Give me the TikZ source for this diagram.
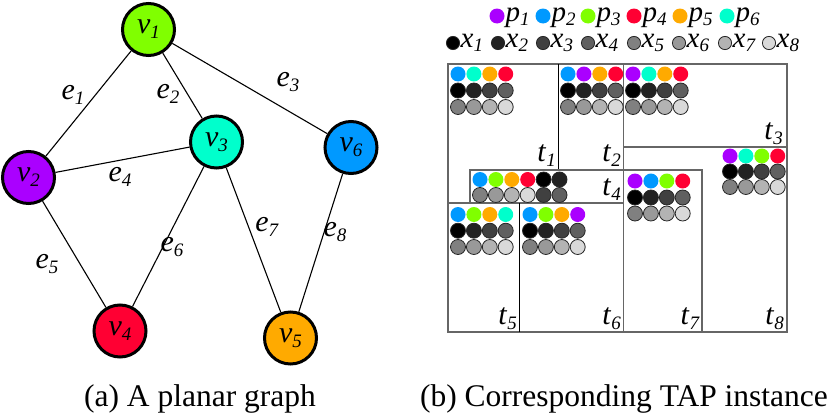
\documentclass[tikz,border=0pt]{standalone}
\usepackage{fontspec}
\setmainfont{Liberation Serif}
\definecolor{pA}{HTML}{AA00FF}
\definecolor{pB}{HTML}{0099FF}
\definecolor{pC}{HTML}{80FF00}
\definecolor{pD}{HTML}{FF0033}
\definecolor{pE}{HTML}{FFAA00}
\definecolor{pF}{HTML}{00FFCC}
\definecolor{gA}{HTML}{000000}
\definecolor{gB}{HTML}{222222}
\definecolor{gC}{HTML}{404040}
\definecolor{gD}{HTML}{606060}
\definecolor{gE}{HTML}{808080}
\definecolor{gF}{HTML}{999999}
\definecolor{gG}{HTML}{B3B3B3}
\definecolor{gH}{HTML}{D9D9D9}
\newcommand\lbl[2]{\textit{#1}\raisebox{-0.17em}{\fontsize{19}{19}\selectfont\textit{#2}}}
\newcommand\dotrow[3]{\foreach \s [count=\i from 0] in {#3} {\path[\s] (#1+\i*15.9,#2) circle (7.5pt);}}
\begin{document}
\begin{tikzpicture}[x=1pt,y=-1pt,
  vert/.style={circle,draw=black,line width=3pt,minimum size=52pt,inner sep=0pt,font=\fontsize{30}{30}\selectfont},
  elab/.style={inner sep=0pt,font=\fontsize{30}{30}\selectfont},
  edgeline/.style={line width=1.1pt},
  frame/.style={draw=black!60,line width=1.5pt},
  divline/.style={draw=black,line width=1pt},
  P1/.style={fill=pA}, P2/.style={fill=pB}, P3/.style={fill=pC},
  P4/.style={fill=pD}, P5/.style={fill=pE}, P6/.style={fill=pF},
  gdot/.style={draw=black!85,line width=0.8pt},
  X1/.style={gdot,fill=gA}, X2/.style={gdot,fill=gB}, X3/.style={gdot,fill=gC}, X4/.style={gdot,fill=gD},
  X5/.style={gdot,fill=gE}, X6/.style={gdot,fill=gF}, X7/.style={gdot,fill=gG}, X8/.style={gdot,fill=gH},
  leg/.style={inner sep=0pt,anchor=base west,font=\fontsize{29}{29}\selectfont},
  tlab/.style={inner sep=0pt,anchor=base east,font=\fontsize{30}{30}\selectfont},
  captxt/.style={inner sep=0pt,anchor=base,font=\fontsize{31.5}{31.5}\selectfont}]
\useasboundingbox (0,0) rectangle (830,415);

% ---------- graph ----------
\node[vert,fill=pC] (v1) at (148.5,29.5) {\lbl{v}{1}};
\node[vert,fill=pA] (v2) at (28.5,177.5) {\lbl{v}{2}};
\node[vert,fill=pF] (v3) at (216.5,142) {\lbl{v}{3}};
\node[vert,fill=pD] (v4) at (120,331) {\lbl{v}{4}};
\node[vert,fill=pE] (v5) at (290.5,338) {\lbl{v}{5}};
\node[vert,fill=pB] (v6) at (351,147.5) {\lbl{v}{6}};
\draw[edgeline] (v1) -- (v2);
\draw[edgeline] (v1) -- (v3);
\draw[edgeline] (v1) -- (v6);
\draw[edgeline] (v2) -- (v3);
\draw[edgeline] (v2) -- (v4);
\draw[edgeline] (v3) -- (v4);
\draw[edgeline] (v3) -- (v5);
\draw[edgeline] (v6) -- (v5);
\node[elab] (e1) at (73,95) {\lbl{e}{1}};
\node[elab] (e2) at (168,94) {\lbl{e}{2}};
\node[elab] (e3) at (288,82) {\lbl{e}{3}};
\node[elab] (e4) at (120,177) {\lbl{e}{4}};
\node[elab] (e5) at (47,264) {\lbl{e}{5}};
\node[elab] (e6) at (172,247) {\lbl{e}{6}};
\node[elab] (e7) at (267,227) {\lbl{e}{7}};
\node[elab] (e8) at (335,232) {\lbl{e}{8}};
\node[captxt] (capa) at (200,406) {(a) A planar graph};

% ---------- legend ----------
\foreach \xx/\st/\n in {497/P1/1,543/P2/2,588/P3/3,634/P4/4,680/P5/5,727/P6/6}{
  \path[\st] (\xx,16) circle (7.5pt);
  \node[leg] (lp\n) at (\xx+8.5,21) {\lbl{p}{\n}};
}
\foreach \xx/\st/\n in {453/X1/1,498/X2/2,543/X3/3,588/X4/4,634/X5/5,679/X6/6,725/X7/7,769/X8/8}{
  \path[\st] (\xx,43) circle (6.6pt);
  \node[leg] (lx\n) at (\xx+7.5,47) {\lbl{x}{\n}};
}

% ---------- TAP instance frame ----------
\draw[frame] (448,64) rectangle (787,332);
\draw[divline] (558,64) -- (558,170);
\draw[frame] (623.5,64) -- (623.5,332);
\draw[frame] (623.5,147) -- (787,147);
\draw[frame] (470,203) -- (470,170) -- (623.5,170);
\draw[frame] (448,203) -- (623.5,203);
\draw[divline] (519,203) -- (519,332);
\draw[frame] (623.5,170) -- (702,170) -- (702,332);

% ---------- dots ----------
\dotrow{458}{74}{P2,P6,P5,P4}
\dotrow{458}{90.5}{X1,X2,X3,X4}
\dotrow{458}{107}{X5,X6,X7,X8}
\dotrow{568}{74}{P2,P1,P5,P4}
\dotrow{568}{90.5}{X1,X2,X3,X4}
\dotrow{568}{107}{X5,X6,X7,X8}
\dotrow{633}{74}{P1,P6,P5,P4}
\dotrow{633}{90.5}{X1,X2,X3,X4}
\dotrow{633}{107}{X5,X6,X7,X8}
\dotrow{730}{156}{P1,P6,P3,P4}
\dotrow{730}{171.5}{X1,X2,X3,X4}
\dotrow{730}{187}{X5,X6,X7,X8}
\dotrow{480}{179.5}{P2,P3,P5,P4,X1,X2}
\dotrow{480}{195}{X5,X6,X7,X8,X3,X4}
\dotrow{458}{214.5}{P2,P3,P5,P6}
\dotrow{458}{230.7}{X1,X2,X3,X4}
\dotrow{458}{247}{X5,X6,X7,X8}
\dotrow{530}{214.5}{P2,P3,P5,P1}
\dotrow{530}{230.7}{X1,X2,X3,X4}
\dotrow{530}{247}{X5,X6,X7,X8}
\dotrow{635}{181}{P1,P2,P3,P4}
\dotrow{635}{197.5}{X1,X2,X3,X4}
\dotrow{635}{213.5}{X5,X6,X7,X8}

% ---------- t labels ----------
\node[tlab] (t1) at (556,161) {\lbl{t}{1}};
\node[tlab] (t2) at (621,161) {\lbl{t}{2}};
\node[tlab] (t3) at (783,139) {\lbl{t}{3}};
\node[tlab] (t4) at (621,195) {\lbl{t}{4}};
\node[tlab] (t5) at (517,324) {\lbl{t}{5}};
\node[tlab] (t6) at (621,324) {\lbl{t}{6}};
\node[tlab] (t7) at (700,324) {\lbl{t}{7}};
\node[tlab] (t8) at (784,324) {\lbl{t}{8}};
\node[captxt] (capb) at (624,406) {(b) Corresponding TAP instance};
\end{tikzpicture}
\end{document}
